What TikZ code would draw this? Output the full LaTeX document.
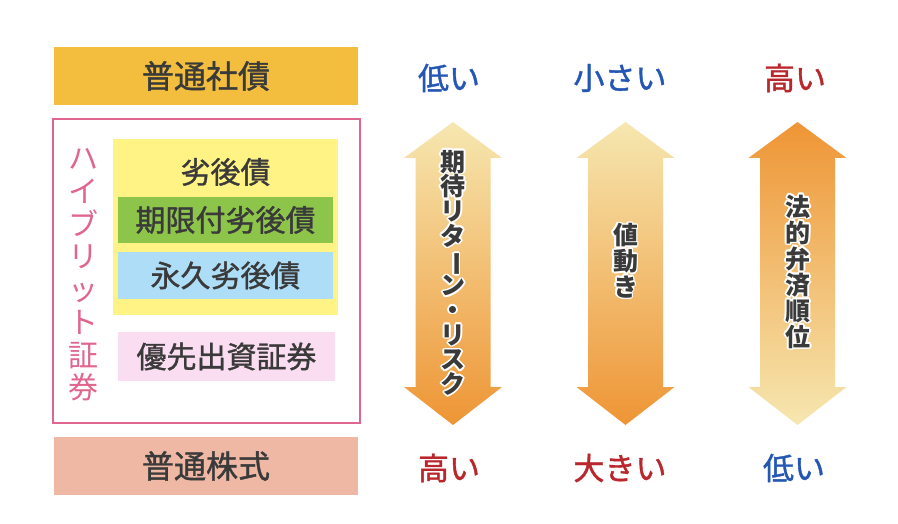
\documentclass[tikz,border=0pt]{standalone}
\usepackage{fontspec}
\usepackage{graphicx}
\usepackage{contour}
\setmainfont{Noto Sans CJK JP}
\newfontfamily\jp{Noto Sans CJK JP}
\newfontfamily\jpm[FakeBold=1.2]{Noto Sans CJK JP}
\contourlength{1.6pt}
\contournumber{12}
\definecolor{gold}{HTML}{F3BE3E}
\definecolor{salmon}{HTML}{EEB8A5}
\definecolor{framepink}{HTML}{E0668E}
\definecolor{lemon}{HTML}{FFF385}
\definecolor{leaf}{HTML}{8DC54B}
\definecolor{sky}{HTML}{AEDDF8}
\definecolor{blush}{HTML}{FADDF0}
\definecolor{ink}{HTML}{3A3A3A}
\definecolor{lowblue}{HTML}{2356B5}
\definecolor{highred}{HTML}{B9272C}
\definecolor{arrlight}{HTML}{F6E7B0}
\definecolor{arrorange}{HTML}{EE9535}
\newcommand\vchars[2]{\vbox{\baselineskip=#1\lineskiplimit=-16000pt\halign{\hfil##\hfil\cr #2\cr}}}
\newcommand\vbar{\rotatebox[origin=c]{-90}{ー}}
\begin{document}
\begin{tikzpicture}[x=1pt,y=-1pt,
  box/.style={inner sep=0pt, minimum width=#1},
  lbl/.style={text=ink, font=\jpm\fontsize{30}{30}\selectfont},
  biglbl/.style={text=ink, font=\jpm\fontsize{32}{32}\selectfont},
  endlbl/.style={font=\jpm\fontsize{31}{31}\selectfont, inner sep=0pt},
  arrtxt/.style={text=ink, font=\jp\bfseries\fontsize{25}{25}\selectfont, inner sep=0pt}
]
\useasboundingbox[fill=white] (0,0) rectangle (898,524);

% left column
\node[box=304pt, minimum height=58pt, fill=gold, biglbl] (bond) at (206,76) {普通社債};
\node[box=307pt, minimum height=304pt, draw=framepink, line width=2.5pt] (frame) at (206.5,271) {};
\node[box=225pt, minimum height=176pt, fill=lemon] (sub) at (225.5,227) {};
\node[lbl, inner sep=0pt] (subtxt) at (225.5,172) {劣後債};
\node[box=215pt, minimum height=46pt, fill=leaf, lbl] (dated) at (225.5,220) {期限付劣後債};
\node[box=215pt, minimum height=47pt, fill=sky, lbl] (perp) at (225.5,275.5) {永久劣後債};
\node[box=217pt, minimum height=49pt, fill=blush, lbl] (pref) at (226.5,356.5) {優先出資証券};
\node[box=304pt, minimum height=58pt, fill=salmon, biglbl] (stock) at (206,466) {普通株式};
\node[inner sep=0pt, text=framepink, font=\jp\fontsize{30}{30}\selectfont] (hyb) at (83,275)
  {\vchars{32.75pt}{ハ\cr イ\cr ブ\cr リ\cr ッ\cr ト\cr 証\cr 券}};

% arrows
\foreach \cx/\tc/\bc/\nm in {453/arrlight/arrorange/a1, 625.5/arrlight/arrorange/a2, 797.5/arrorange/arrlight/a3}{
  \coordinate (\nm top) at (\cx,122);
  \coordinate (\nm bot) at (\cx,425);
  \shade[top color=\tc, bottom color=\bc]
    (\nm top) -- ++(49,36) -- ++(-11.5,0) -- ++(0,229) -- ++(11.5,0) -- (\nm bot)
    -- ++(-49,-38) -- ++(11.5,0) -- ++(0,-229) -- ++(-11.5,0) -- cycle;
}
\node[arrtxt] (t1) at (453,273.5)
  {\contour{white}{\vchars{24.7pt}{期\cr 待\cr リ\cr タ\cr \vbar\cr ン\cr ・\cr リ\cr ス\cr ク}}};
\node[arrtxt] (t2) at (625.5,261.5)
  {\contour{white}{\vchars{25.7pt}{値\cr 動\cr き}}};
\node[arrtxt] (t3) at (798,272.5)
  {\contour{white}{\vchars{26pt}{法\cr 的\cr 弁\cr 済\cr 順\cr 位}}};

% end labels
\node[endlbl, text=lowblue] (l1) at (449,78) {低い};
\node[endlbl, text=lowblue] (l2) at (620,78) {小さい};
\node[endlbl, text=highred] (l3) at (795,78) {高い};
\node[endlbl, text=highred] (b1) at (449,468) {高い};
\node[endlbl, text=highred] (b2) at (620,468) {大きい};
\node[endlbl, text=lowblue] (b3) at (794,468) {低い};
\end{tikzpicture}
\end{document}
